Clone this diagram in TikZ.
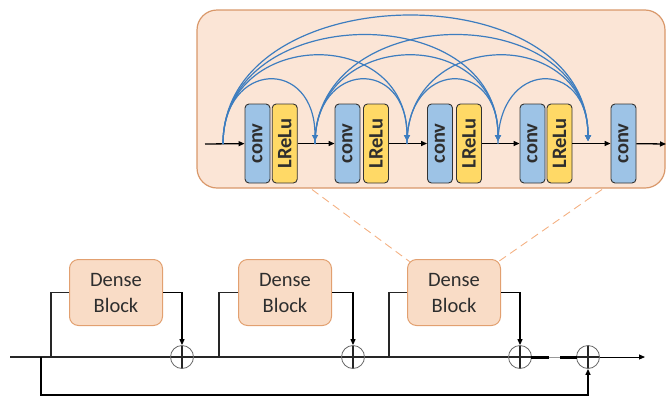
\documentclass[tikz,border=0pt]{standalone}
\usepackage{fontspec}
\setmainfont{Carlito}
\usetikzlibrary{arrows.meta,calc}
\definecolor{bigfill}{HTML}{FBE5D6}
\definecolor{bigdraw}{HTML}{D9986A}
\definecolor{dbfill}{HTML}{F9DCC6}
\definecolor{dbdraw}{HTML}{E2A070}
\definecolor{convfill}{HTML}{9DC3E6}
\definecolor{relufill}{HTML}{FFD966}
\definecolor{arcblue}{HTML}{3D7DBF}
\definecolor{dashor}{HTML}{F4B183}
\definecolor{txt}{HTML}{2E2E2E}
\begin{document}
\begin{tikzpicture}[x=1pt,y=-1pt,
  bigbox/.style={draw=bigdraw,fill=bigfill,line width=1.2pt,rounded corners=20pt,
    minimum width=468pt,minimum height=178pt,inner sep=0pt},
  dense/.style={draw=dbdraw,fill=dbfill,line width=1pt,rounded corners=9pt,
    minimum width=93pt,minimum height=66pt,align=center,
    font=\fontsize{20.5}{26}\selectfont,text=txt,inner sep=0pt},
  layer/.style={draw=black!80,line width=0.9pt,rounded corners=4pt,
    minimum width=79pt,minimum height=25pt,rotate=90,inner sep=0pt,
    font=\bfseries\fontsize{20.5}{22}\selectfont,text=txt},
  convbox/.style={layer,fill=convfill},
  relubox/.style={layer,fill=relufill},
  sum/.style={circle,draw=black!60,fill=white,line width=0.8pt,minimum size=23pt,inner sep=0pt,
    path picture={\draw[line width=1.1pt,black!85]
      (path picture bounding box.north) -- (path picture bounding box.south)
      (path picture bounding box.west) -- (path picture bounding box.east);}},
  flow/.style={line width=1.1pt,black,-{Triangle[length=6pt,width=5pt]}},
  wire/.style={line width=1.1pt,black!85},
  thickwire/.style={line width=3pt,black},
  arcb/.style={line width=1.2pt,arcblue,-{Triangle[length=6pt,width=6pt]}},
  zoomline/.style={dashor,line width=0.9pt,dash pattern=on 8pt off 5pt}
]
\useasboundingbox (0,0) rectangle (666,397);

% ---------- zoomed dense block ----------
\node[bigbox] (big) at (431,99) {};

\node[convbox] (c1) at (257.5,143.5) {conv};
\node[relubox] (l1) at (284.75,143.5) {LReLu};
\node[convbox] (c2) at (347.5,143.5) {conv};
\node[relubox] (l2) at (376,143.5) {LReLu};
\node[convbox] (c3) at (440,143.5) {conv};
\node[relubox] (l3) at (469,143.5) {LReLu};
\node[convbox] (c4) at (532.5,143.5) {conv};
\node[relubox] (l4) at (559.5,143.5) {LReLu};
\node[convbox] (c5) at (623.5,143.5) {conv};

\coordinate (tin) at (205,144);
\coordinate (tout) at (666,144);
\coordinate (j0) at (223,144);
\coordinate (j1) at (315,144);
\coordinate (j2) at (407,144);
\coordinate (j3) at (498,144);
\coordinate (j4) at (588,144);

\draw[flow,line width=1.3pt] (tin) -- (c1);
\draw[flow,line width=1.3pt] (l1) -- (c2);
\draw[flow,line width=1.3pt] (l2) -- (c3);
\draw[flow,line width=1.3pt] (l3) -- (c4);
\draw[flow,line width=1.3pt] (l4) -- (c5);
\draw[flow,line width=1.3pt] (c5) -- (tout);

\foreach \i/\k/\H in {0/1/84,1/2/84,2/3/84,3/4/84,0/2/116,1/3/116,2/4/116,0/3/143,1/4/143,0/4/169}{
  \draw[arcb] (j\i) .. controls +(0,-\H) and +(0,-\H) .. ($(j\k)+(0,-3)$);
}

% ---------- main network ----------
\node[dense] (d1) at (116,292.5) {Dense\\Block};
\node[dense] (d2) at (285,292.5) {Dense\\Block};
\node[dense] (d3) at (454,292.5) {Dense\\Block};

\coordinate (dl) at (312,189.5);
\coordinate (dr) at (602,189.5);
\draw[zoomline] (dl) -- ($(d3.north west)+(2.6,2.6)$);
\draw[zoomline] (dr) -- ($(d3.north east)+(-2.6,2.6)$);

\coordinate (s) at (10,357);
\coordinate (e) at (645,357);
\coordinate (b0) at (41,357);
\coordinate (t1) at (51,357);
\coordinate (t2) at (219,357);
\coordinate (t3) at (389,357);
\coordinate (g0) at (531,357);
\coordinate (g1) at (549,357);
\coordinate (g2) at (560,357);
\coordinate (g3) at (577,357);

\node[sum] (p1) at (182,357) {};
\node[sum] (p2) at (353,357) {};
\node[sum] (p3) at (520,357) {};
\node[sum] (p4) at (588,357) {};

\draw[black!40,line width=0.6pt] (g1) -- (g2);
\draw[thickwire] (g0) -- (g1) (g2) -- (g3);

\draw[wire,line width=1.4pt] (s) -- (p1);
\draw[wire] (p1) -- (p2);
\draw[wire] (p2) -- (p3);
\draw[flow,line width=0.9pt] (p4) -- (e);

\draw[wire,line width=1.4pt] (t1) |- (d1.west);
\draw[wire] (t2) |- (d2.west);
\draw[wire] (t3) |- (d3.west);
\draw[flow] (d1.east) -| (p1.north);
\draw[flow] (d2.east) -| (p2.north);
\draw[flow] (d3.east) -| (p3.north);
\draw[flow,line width=1.3pt] (b0) -- ++(0,38) -| (p4.south);
\end{tikzpicture}
\end{document}
